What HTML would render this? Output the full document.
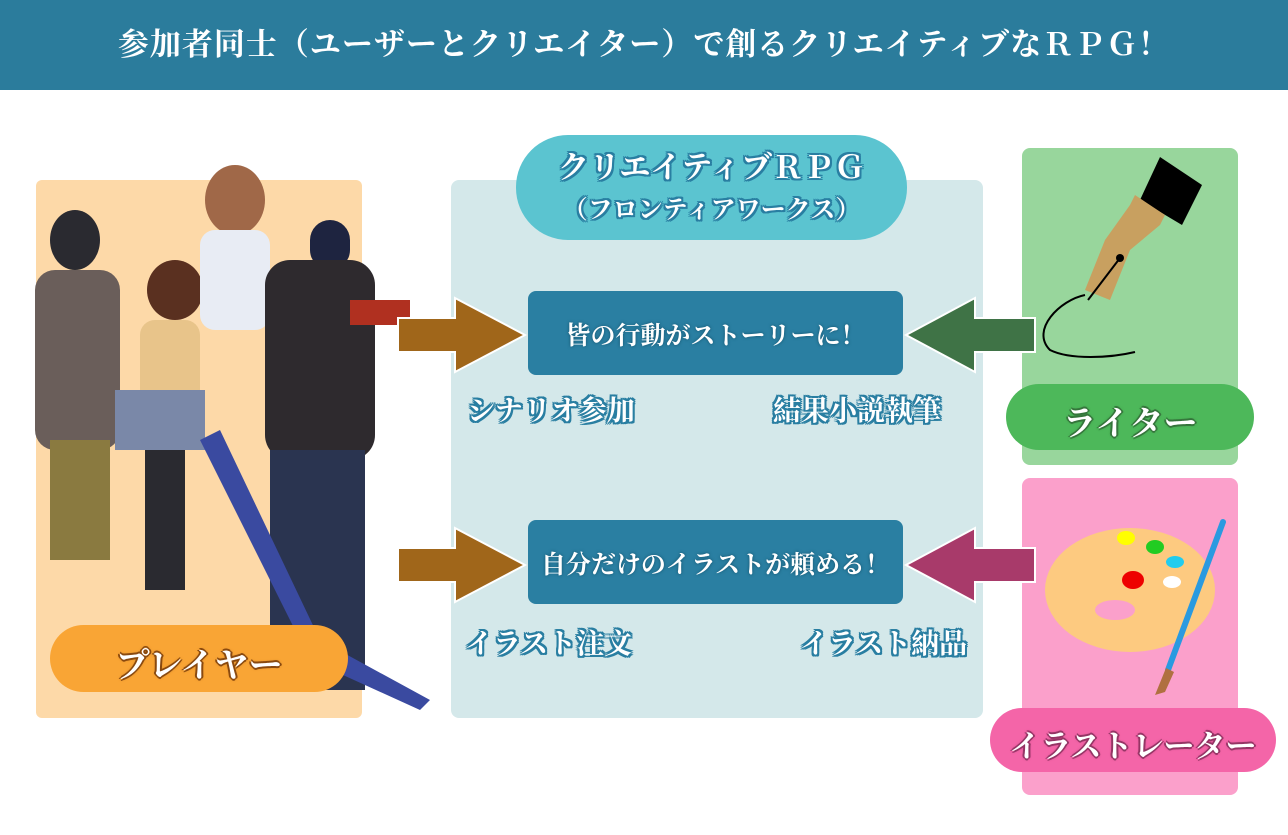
<!DOCTYPE html>
<html><head><meta charset="utf-8"><style>
body{margin:0;width:1288px;height:835px;background:#fff;position:relative;overflow:hidden;font-family:"Liberation Serif","Noto Serif CJK SC","Noto Sans CJK JP",serif;}
.a{position:absolute}
.hd{left:0;top:0;width:1288px;height:90px;background:#2b7c9c;color:#fff;font-size:31px;letter-spacing:1px;font-weight:bold;text-align:center;line-height:90px;}
.t{position:absolute;font-weight:bold;color:#fff;white-space:nowrap;text-align:center}
.st1{text-shadow:0 0 2px #2a7fa2,2px 0 0 #2a7fa2,-2px 0 0 #2a7fa2,0 2px 0 #2a7fa2,0 -2px 0 #2a7fa2,2px 2px 0 #2a7fa2,-2px -2px 0 #2a7fa2,2px -2px 0 #2a7fa2,-2px 2px 0 #2a7fa2}
</style></head><body>
<div class="a hd">参加者同士（ユーザーとクリエイター）で創るクリエイティブなＲＰＧ！</div>

<div class="a" style="left:36px;top:180px;width:326px;height:538px;background:#fdd9a8;border-radius:6px"></div>
<div class="a" style="left:451px;top:180px;width:532px;height:538px;background:#d4e8ea;border-radius:8px"></div>
<div class="a" style="left:1022px;top:148px;width:216px;height:317px;background:#98d69c;border-radius:8px"></div>
<div class="a" style="left:1022px;top:478px;width:216px;height:317px;background:#fba0cb;border-radius:8px"></div>

<!-- characters rough -->
<svg class="a" style="left:20px;top:160px" width="430" height="580">
<ellipse cx="55" cy="80" rx="25" ry="30" fill="#2a2a30"/>
<rect x="15" y="110" width="85" height="180" rx="20" fill="#6a5e5a"/>
<rect x="30" y="280" width="60" height="120" fill="#8a7a40"/>
<ellipse cx="155" cy="130" rx="28" ry="30" fill="#5a3020"/>
<rect x="120" y="160" width="60" height="90" rx="15" fill="#e8c48a"/>
<rect x="95" y="230" width="90" height="60" fill="#7a88a8"/>
<rect x="125" y="290" width="40" height="140" fill="#2a2a30"/>
<ellipse cx="215" cy="40" rx="30" ry="35" fill="#a06848"/>
<rect x="180" y="70" width="70" height="100" rx="15" fill="#e8ecf4"/>
<rect x="290" y="60" width="40" height="50" rx="20" fill="#1e2440"/>
<rect x="245" y="100" width="110" height="200" rx="25" fill="#2e2a2e"/>
<rect x="250" y="290" width="95" height="240" fill="#2a3450"/>
<polygon points="180,280 200,270 300,480 410,540 400,550 290,500" fill="#3a4aa0"/>
<rect x="330" y="140" width="60" height="25" fill="#b03020"/>
</svg>

<div class="a" style="left:50px;top:625px;width:298px;height:67px;background:#f9a535;border-radius:34px"></div>
<div class="t" style="left:50px;top:638px;width:298px;font-size:34px;text-shadow:0 0 3px #8a4a10,2px 0 0 #8a4a10,-2px 0 0 #8a4a10,0 2px 0 #8a4a10,0 -2px 0 #8a4a10">プレイヤー</div>

<div class="a" style="left:516px;top:135px;width:391px;height:105px;background:#5bc4d0;border-radius:52px"></div>
<div class="t st1" style="left:516px;top:148px;width:391px;font-size:31px;line-height:40px">クリエイティブＲＰＧ<br><span style="font-size:25px">（フロンティアワークス）</span></div>

<div class="a" style="left:528px;top:291px;width:375px;height:84px;background:#2a7fa2;border-radius:8px"></div>
<div class="t" style="left:528px;top:316px;width:375px;font-size:25px;text-shadow:0 0 3px #14506a">皆の行動がストーリーに！</div>
<div class="a" style="left:528px;top:520px;width:375px;height:84px;background:#2a7fa2;border-radius:8px"></div>
<div class="t" style="left:528px;top:545px;width:375px;font-size:25px;text-shadow:0 0 3px #14506a">自分だけのイラストが頼める！</div>

<svg class="a" style="left:0;top:0" width="1288" height="835">
<polygon points="398,318 455,318 455,298 525,335 455,372 455,352 398,352" fill="#a0661a" stroke="#fff" stroke-width="2"/>
<polygon points="398,548 455,548 455,528 525,565 455,602 455,582 398,582" fill="#a0661a" stroke="#fff" stroke-width="2"/>
<polygon points="1035,318 975,318 975,298 906,335 975,372 975,352 1035,352" fill="#3f7346" stroke="#fff" stroke-width="2"/>
<polygon points="1035,548 975,548 975,528 906,565 975,602 975,582 1035,582" fill="#a83a6a" stroke="#fff" stroke-width="2"/>
<!-- pen -->
<polygon points="1160,157 1202,185 1182,225 1140,200" fill="#000"/>
<polygon points="1135,195 1165,215 1160,225 1130,250 1110,300 1085,290 1105,240 1130,205" fill="#c8a060"/>
<line x1="1120" y1="258" x2="1088" y2="300" stroke="#000" stroke-width="2"/>
<circle cx="1120" cy="258" r="4" fill="#000"/>
<path d="M1085,295 C1060,300 1030,330 1050,350 C1070,360 1110,358 1135,352" fill="none" stroke="#000" stroke-width="2"/>
<!-- palette -->
<ellipse cx="1130" cy="590" rx="85" ry="62" fill="#fdca80"/>
<ellipse cx="1115" cy="610" rx="20" ry="10" fill="#fba0cb"/>
<ellipse cx="1126" cy="538" rx="9" ry="7" fill="#ff0"/>
<ellipse cx="1155" cy="547" rx="9" ry="7" fill="#2c2"/>
<ellipse cx="1175" cy="562" rx="9" ry="6" fill="#2ce"/>
<ellipse cx="1133" cy="580" rx="11" ry="9" fill="#e00"/>
<ellipse cx="1172" cy="582" rx="9" ry="6" fill="#fff"/>
<line x1="1223" y1="522" x2="1168" y2="670" stroke="#2a9ae0" stroke-width="6" stroke-linecap="round"/>
<polygon points="1166,668 1174,672 1165,692 1155,695" fill="#b07040"/>
</svg>

<div class="a" style="left:1006px;top:384px;width:248px;height:66px;background:#4db85a;border-radius:33px"></div>
<div class="t" style="left:1006px;top:396px;width:248px;font-size:34px;text-shadow:0 0 3px #2a6a30,2px 0 0 #3a7a40,-2px 0 0 #3a7a40,0 2px 0 #3a7a40,0 -2px 0 #3a7a40">ライター</div>
<div class="a" style="left:990px;top:708px;width:286px;height:64px;background:#f465a8;border-radius:32px"></div>
<div class="t" style="left:990px;top:721px;width:286px;font-size:31px;text-shadow:0 0 3px #8a2a5a,2px 0 0 #9a3a6a,-2px 0 0 #9a3a6a,0 2px 0 #9a3a6a,0 -2px 0 #9a3a6a">イラストレーター</div>

<div class="t st1" style="left:467px;top:389px;font-size:28px">シナリオ参加</div>
<div class="t st1" style="left:773px;top:389px;font-size:28px">結果小説執筆</div>
<div class="t st1" style="left:465px;top:622px;font-size:28px">イラスト注文</div>
<div class="t st1" style="left:800px;top:622px;font-size:28px">イラスト納品</div>
</body></html>
